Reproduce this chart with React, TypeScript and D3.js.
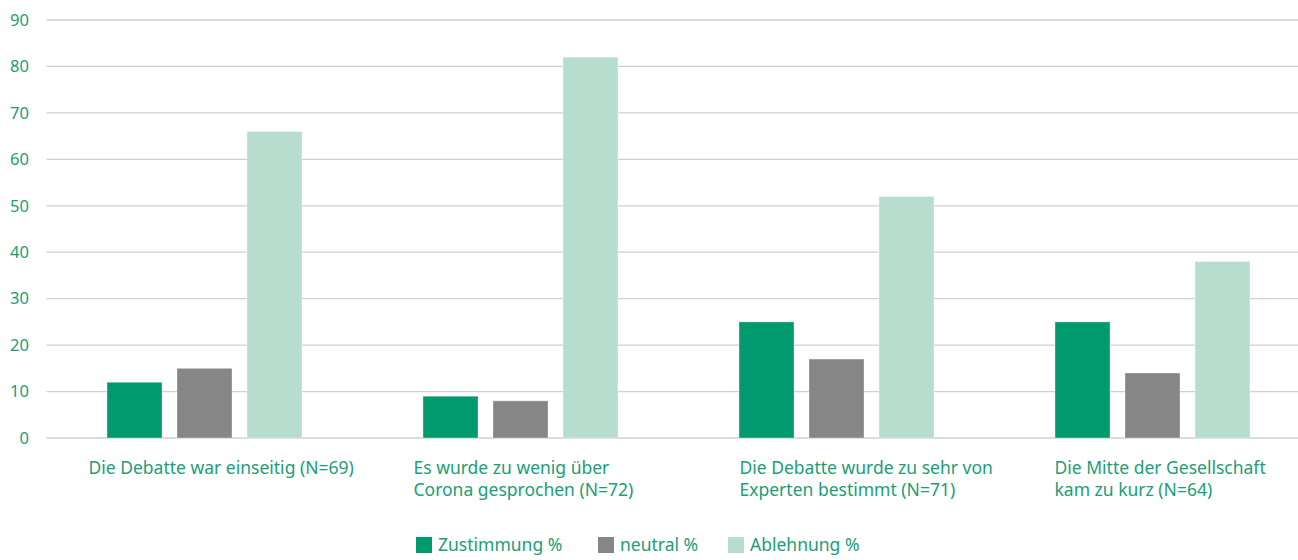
import React from "react";
import * as d3 from "d3";

const categories = [
  ["Die Debatte war einseitig (N=69)"],
  ["Es wurde zu wenig über", "Corona gesprochen (N=72)"],
  ["Die Debatte wurde zu sehr von", "Experten bestimmt (N=71)"],
  ["Die Mitte der Gesellschaft", "kam zu kurz (N=64)"],
];
const seriesNames = ["Zustimmung %", "neutral %", "Ablehnung %"];
const zustimmung = [12, 9, 25, 25];
const neutral = [15, 8, 17, 14];
const ablehnung = [66, 82, 52, 38];
const yTicks = [0, 10, 20, 30, 40, 50, 60, 70, 80, 90];

const colors = ["#009A6E", "#868686", "#B7DDCE"];
const textColor = "#1A9E78";
const labelShift = [42, 51, 61, 60];
const font = "'Source Sans Pro', 'Noto Sans', sans-serif";

export default function App() {
  const W = 1298, H = 560;
  const left = 46.5, bandW = 316;
  const x = d3.scaleBand<number>().domain([0, 1, 2, 3]).range([left, left + 4 * bandW]).paddingInner(0).paddingOuter(0);
  const y = d3.scaleLinear().domain([0, 90]).range([438, 20]);
  const inner = d3.scaleBand<number>().domain([0, 1, 2]).range([60.5, 60.5 + 195]).paddingInner(15 / 70).paddingOuter(0);
  const series = [zustimmung, neutral, ablehnung];
  const legendX = [416, 598, 728];

  return (
    <svg width={W} height={H} style={{ position: "absolute", left: 0, top: 0, background: "#fff" }} fontFamily={font}>
      {yTicks.map((t) => (
        <g key={t}>
          <line x1={left} x2={W} y1={y(t)} y2={y(t)} stroke="#D0D0D0" strokeWidth={1.3} />
          <text x={29} y={y(t)} dy="0.35em" textAnchor="end" fontSize={16.5} fill={textColor}>{t}</text>
        </g>
      ))}
      {series.map((vals, s) =>
        vals.map((v, i) => (
          <rect key={s + "-" + i}
            x={(x(i) as number) + (inner(s) as number)}
            y={y(v)}
            width={inner.bandwidth()}
            height={y(0) - y(v)}
            fill={colors[s]}
            stroke="#ffffff" strokeOpacity={0.35} strokeWidth={1} />
        ))
      )}
      {categories.map((lines, i) => (
        <text key={i} x={(x(i) as number) + labelShift[i]} y={474} fontSize={17.5} fill={textColor}>
          {lines.map((l, j) => (
            <tspan key={j} x={(x(i) as number) + labelShift[i]} dy={j === 0 ? 0 : 22}>{l}</tspan>
          ))}
        </text>
      ))}
      {seriesNames.map((n, s) => (
        <g key={n}>
          <rect x={legendX[s]} y={537} width={16} height={16} fill={colors[s]} />
          <text x={legendX[s] + 22} y={551} fontSize={17.5} fill={textColor}>{n}</text>
        </g>
      ))}
    </svg>
  );
}
